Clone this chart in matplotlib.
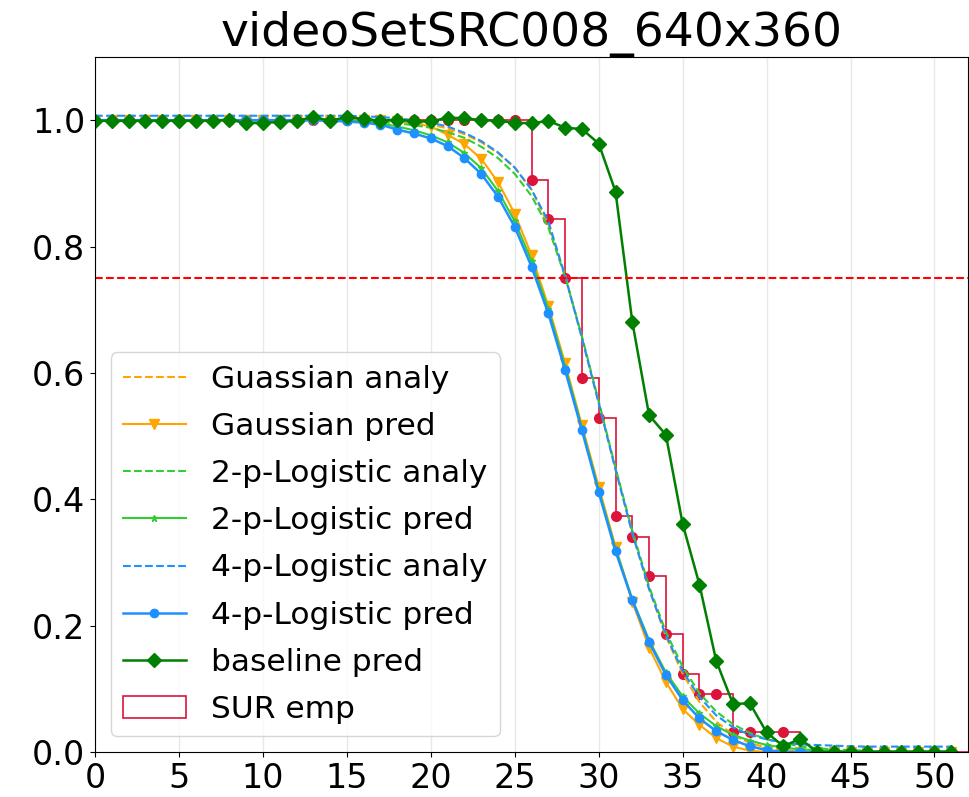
import numpy as np
import matplotlib
matplotlib.use("Agg")
import matplotlib.pyplot as plt

title = "videoSetSRC008_640x360"
x = np.arange(0, 52)
bin_edges = np.arange(0, 53)

# Analytic survival curves
gauss_analy = [1.0] * 17 + [
    0.999, 0.998, 0.996, 0.993, 0.987, 0.978, 0.965, 0.948, 0.925, 0.890,
    0.835, 0.755, 0.656, 0.553, 0.448, 0.347, 0.258, 0.183, 0.124, 0.079,
    0.048, 0.027, 0.014, 0.007, 0.003, 0.001] + [0.0] * 9
logi2_analy = [1.0] * 15 + [
    0.999, 0.998, 0.997, 0.995, 0.992, 0.988, 0.981, 0.972, 0.958, 0.940,
    0.915, 0.880, 0.830, 0.752, 0.658, 0.555, 0.450, 0.350, 0.262, 0.190,
    0.135, 0.093, 0.064, 0.044, 0.030, 0.020, 0.014, 0.009, 0.006, 0.004,
    0.003, 0.002] + [0.001] * 5
logi4_analy = [1.007] * 16 + [
    1.006, 1.005, 1.003, 1.000, 0.996, 0.990, 0.980, 0.967, 0.949, 0.925,
    0.890, 0.840, 0.753, 0.655, 0.552, 0.447, 0.346, 0.258, 0.185, 0.128,
    0.087, 0.058, 0.039, 0.027, 0.020, 0.015, 0.012, 0.011, 0.010, 0.009] + [0.0085] * 6

# Predicted survival curves
gauss_pred = [1.0] * 18 + [
    0.998, 0.995, 0.990, 0.977, 0.962, 0.939, 0.902, 0.852, 0.786, 0.706,
    0.615, 0.517, 0.420, 0.325, 0.238, 0.165, 0.111, 0.068, 0.043, 0.022,
    0.0085, 0.002] + [0.0] * 12
logi2_pred = [1.0] * 16 + [
    0.998, 0.995, 0.990, 0.984, 0.976, 0.965, 0.948, 0.924, 0.888, 0.840,
    0.777, 0.701, 0.610, 0.513, 0.415, 0.322, 0.242, 0.177, 0.126, 0.088,
    0.061, 0.041, 0.027, 0.018, 0.011, 0.007, 0.004, 0.003, 0.002] + [0.001] * 7
logi4_pred = [1.0] * 14 + [
    0.999, 0.998, 0.996, 0.993, 0.985, 0.979, 0.971, 0.959, 0.940, 0.915,
    0.879, 0.831, 0.768, 0.694, 0.604, 0.509, 0.411, 0.318, 0.240, 0.174,
    0.122, 0.082, 0.053, 0.033, 0.019, 0.009, 0.003] + [0.0] * 11
baseline_pred = [
    0.999, 0.999, 0.999, 0.999, 0.999, 0.999, 0.999, 0.999, 1.001, 0.995,
    0.996, 0.997, 0.999, 1.005, 0.999, 1.005, 1.002, 0.999, 1.001, 0.998,
    0.998, 1.004, 1.003, 1.000, 0.999, 0.996, 0.995, 0.999, 0.988, 0.986,
    0.963, 0.887, 0.681, 0.533, 0.502, 0.361, 0.265, 0.144, 0.076, 0.077,
    0.031, 0.009, 0.021] + [0.0] * 9

# Empirical satisfied-user ratio
sur_emp = [1.0] * 26 + [
    0.905, 0.843, 0.750, 0.592, 0.529, 0.374, 0.341, 0.279, 0.186, 0.123,
    0.091, 0.091, 0.031, 0.031, 0.031, 0.031] + [0.0] * 10

threshold = 0.75

fig = plt.figure(figsize=(9.70, 7.97), dpi=100)
ax = fig.add_axes([0.098, 0.0565, 0.900, 0.872])

_, _, sur_patches = ax.hist(x, bins=bin_edges, weights=sur_emp, histtype="step",
                            color="crimson", linewidth=1.2, label="SUR emp")
ax.plot(x, sur_emp, "o", color="crimson", markersize=7, label="_nolegend_")

handles = []
handles += ax.plot(x, gauss_analy, "--", color="orange", linewidth=1.5,
                   label="Guassian analy")
handles += ax.plot(x, gauss_pred, "-v", color="orange", linewidth=1.5,
                   markersize=7, label="Gaussian pred")
handles += ax.plot(x, logi2_analy, "--", color="limegreen", linewidth=1.5,
                   label="2-p-Logistic analy")
handles += ax.plot(x, logi2_pred, "-*", color="limegreen", linewidth=1.5,
                   markersize=5, label="2-p-Logistic pred")
handles += ax.plot(x, logi4_analy, "--", color="dodgerblue", linewidth=1.5,
                   label="4-p-Logistic analy")
handles += ax.plot(x, logi4_pred, "-o", color="dodgerblue", linewidth=1.8,
                   markersize=6, label="4-p-Logistic pred")
handles += ax.plot(x, baseline_pred, "-D", color="green", linewidth=1.8,
                   markersize=7, label="baseline pred")
handles.append(sur_patches[0])

ax.axhline(threshold, color="red", linestyle="--", linewidth=1.5)

ax.set_xlim(0, 52)
ax.set_ylim(0, 1.1)
ax.set_xticks(np.arange(0, 51, 5))
ax.set_yticks([0.0, 0.2, 0.4, 0.6, 0.8, 1.0])
ax.tick_params(labelsize=24)
ax.grid(axis="x", color="#e8e8e8", linewidth=1.0)
ax.set_axisbelow(True)
ax.set_title(title, fontsize=34)

ax.legend(handles=handles, labels=[h.get_label() for h in handles],
          loc="lower left", fontsize=22.5, labelspacing=0.58)

fig.savefig("out.png", dpi=100)
